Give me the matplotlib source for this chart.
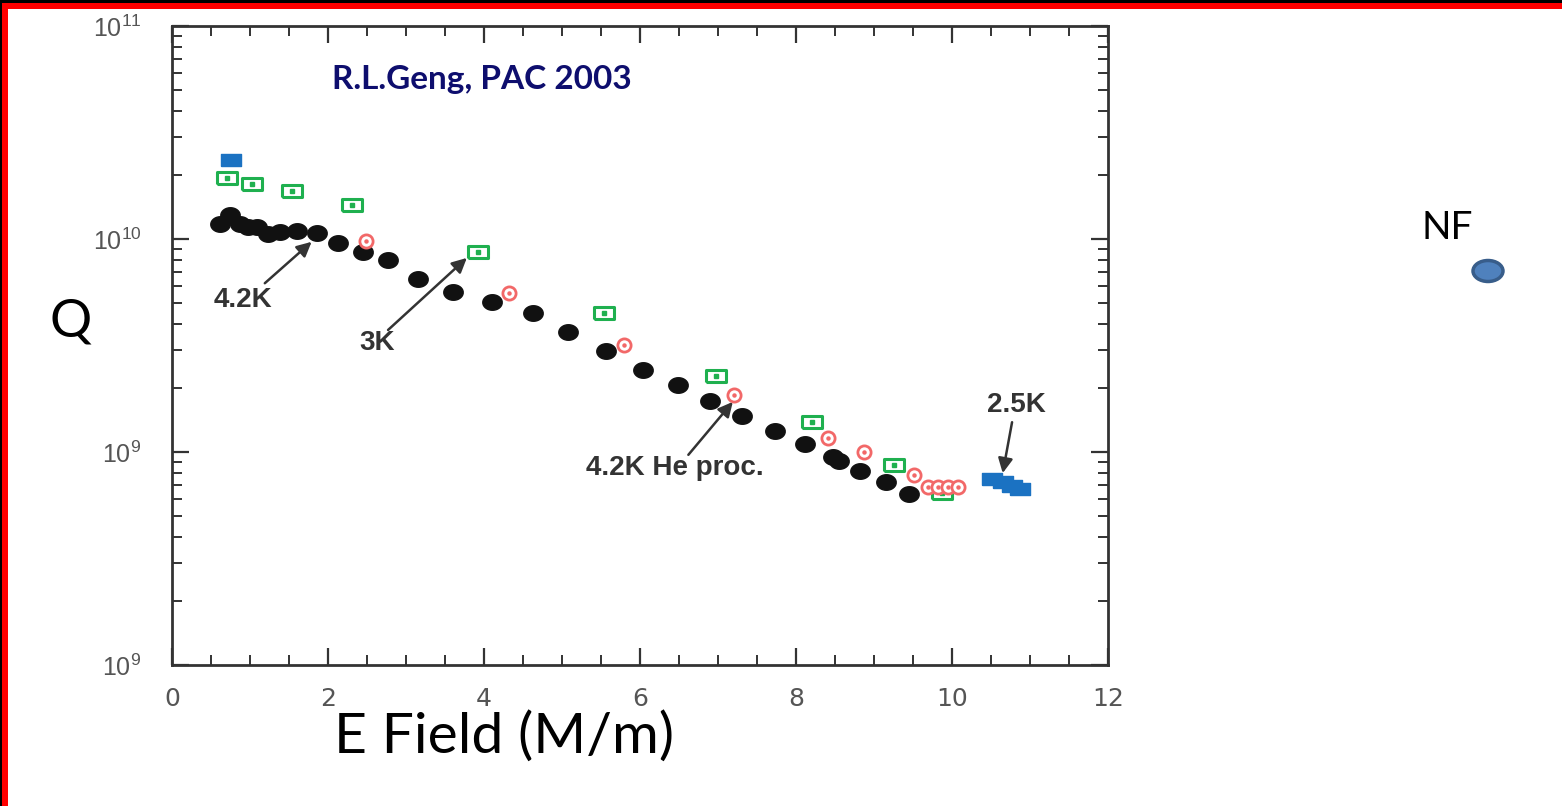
import numpy as np
import matplotlib
matplotlib.use("Agg")
import matplotlib.pyplot as plt
from matplotlib.patches import Rectangle, Ellipse
from matplotlib.ticker import LogLocator, MultipleLocator, NullFormatter

plt.rcParams['mathtext.fontset'] = 'custom'
plt.rcParams['mathtext.rm'] = 'Liberation Sans'

# ---- data ----
# 4.2K (black filled circles)
x_42k = [0.62, 0.74, 0.87, 0.97, 1.09, 1.23, 1.39, 1.60, 1.86, 2.13, 2.45, 2.77, 3.15,
         3.60, 4.10, 4.63, 5.08, 5.56, 6.04, 6.49, 6.90, 7.31, 7.73, 8.12, 8.47, 8.55,
         8.82, 9.15, 9.45]
q_42k = [1.17e10, 1.30e10, 1.17e10, 1.14e10, 1.14e10, 1.05e10, 1.08e10, 1.09e10, 1.07e10,
         9.6e9, 8.7e9, 7.97e9, 6.5e9, 5.64e9, 5.06e9, 4.5e9, 3.66e9, 2.98e9, 2.43e9,
         2.07e9, 1.73e9, 1.48e9, 1.26e9, 1.09e9, 9.5e8, 9.1e8, 8.15e8, 7.2e8, 6.35e8]
# 3K (green open squares)
x_3k = [0.70, 1.03, 1.54, 2.31, 3.92, 5.54, 6.97, 8.21, 9.26, 9.87]
q_3k = [1.93e10, 1.81e10, 1.68e10, 1.45e10, 8.7e9, 4.5e9, 2.27e9, 1.38e9, 8.7e8, 6.43e8]
# 4.2K He processed (red open circles)
x_he = [2.49, 4.32, 5.79, 7.21, 8.41, 8.87, 9.51, 9.69, 9.82, 9.95, 10.08]
q_he = [9.8e9, 5.57e9, 3.18e9, 1.85e9, 1.16e9, 1.0e9, 7.8e8, 6.85e8, 6.85e8, 6.85e8, 6.85e8]
# 2.5K (blue filled rectangles)
x_25k = [0.76, 10.51, 10.65, 10.77, 10.87]
q_25k = [2.35e10, 7.47e8, 7.2e8, 6.92e8, 6.7e8]

ytick_vals = [1e8, 1e9, 1e10, 1e11]
ytick_labels = ['$10^9$', '$10^9$', '$10^{10}$', '$10^{11}$']
xtick_vals = [0, 2, 4, 6, 8, 10, 12]

fig = plt.figure(figsize=(15.62, 8.06), dpi=100)
fig.patch.set_facecolor('white')

# slide border
fig.add_artist(Rectangle((0, 1 - 9 / 806), 1, 9 / 806, transform=fig.transFigure,
                         color='black', lw=0))
fig.add_artist(Rectangle((0, 1 - 9 / 806), 1, 6 / 806, transform=fig.transFigure,
                         color='#ff0000', lw=0))
fig.add_artist(Rectangle((0, 0), 8 / 1562, 1, transform=fig.transFigure,
                         color='black', lw=0))
fig.add_artist(Rectangle((2 / 1562, 0), 6 / 1562, 1 - 3 / 806, transform=fig.transFigure,
                         color='#ff0000', lw=0))

ax = fig.add_axes([172 / 1562, 1 - 665 / 806, 936 / 1562, 639 / 806])
ax.set_yscale('log')
ax.set_xlim(0, 12)
ax.set_ylim(1e8, 1e11)

rect = [(-1, -0.62), (1, -0.62), (1, 0.62), (-1, 0.62), (-1, -0.62)]
oval = [(np.cos(t) * 1.0, np.sin(t) * 0.8) for t in np.linspace(0, 2 * np.pi, 40)]

ax.plot(x_42k, q_42k, ls='none', marker=oval, ms=14, color='#111111', zorder=3)
ax.plot(x_3k, q_3k, ls='none', marker=rect, ms=14, mfc='white', mec='#1fb04f',
        mew=2.2, zorder=4)
ax.plot(x_3k, q_3k, ls='none', marker='s', ms=2.2, color='#1fb04f', zorder=4)
ax.plot(x_he, q_he, ls='none', marker='o', ms=9.5, mfc='white', mec='#f26868',
        mew=2.0, zorder=5)
ax.plot(x_he, q_he, ls='none', marker='o', ms=2.2, color='#f26868', zorder=5)
ax.plot(x_25k, q_25k, ls='none', marker=rect, ms=15, color='#1b72c2', zorder=6)

for s in ax.spines.values():
    s.set_linewidth(2)
    s.set_color('#333333')

ax.xaxis.set_minor_locator(MultipleLocator(0.5))
ax.set_xticks(xtick_vals)
ax.set_yticks(ytick_vals)
ax.set_yticklabels(ytick_labels)
ax.yaxis.set_minor_locator(LogLocator(base=10, subs=np.arange(2, 10)))
ax.yaxis.set_minor_formatter(NullFormatter())
ax.tick_params(which='both', direction='in', top=True, right=True, color='#333333')
ax.tick_params(which='major', length=12, width=1.6)
ax.tick_params(which='minor', length=7, width=1.4)
ax.tick_params(axis='x', which='major', labelsize=18, labelcolor='#555555', pad=16)
ax.tick_params(axis='y', which='major', labelsize=18, labelcolor='#555555', pad=22)

arrow = dict(arrowstyle='-|>', color='#333333', lw=1.8, mutation_scale=22,
             shrinkA=0, shrinkB=0)
lbl = dict(fontsize=20, fontweight='bold', color='#333333',
           family='Liberation Sans', ha='center', va='center')
ax.annotate('', xy=(1.79, 9.7e9), xytext=(1.19, 6.2e9), arrowprops=arrow)
ax.text(0.91, 5.18e9, '4.2K', **lbl)
ax.annotate('', xy=(3.78, 8.15e9), xytext=(2.77, 3.74e9), arrowprops=arrow)
ax.text(2.63, 3.25e9, '3K', **lbl)
ax.annotate('', xy=(7.19, 1.72e9), xytext=(6.62, 9.7e8), arrowprops=arrow)
ax.text(6.44, 8.4e8, '4.2K He proc.', **lbl)
ax.annotate('', xy=(10.65, 7.96e8), xytext=(10.77, 1.38e9), arrowprops=arrow)
ax.text(10.83, 1.66e9, '2.5K', **lbl)

fig.text(482 / 1562, 1 - 80 / 806, 'R.L.Geng, PAC 2003', fontsize=24,
         fontweight='bold', color='#0e0e6e', family='Lato', ha='center', va='center')
fig.text(71 / 1562, 1 - 322 / 806, 'Q', fontsize=38, color='black', family='Lato',
         ha='center', va='center')
fig.text(504 / 1562, 1 - 737 / 806, 'E Field (M/m)', fontsize=41, color='black',
         family='Lato', ha='center', va='center')
fig.text(1447 / 1562, 1 - 228 / 806, 'NF', fontsize=28, color='black', family='Lato',
         ha='center', va='center')
fig.add_artist(Ellipse((1488 / 1562, 1 - 271 / 806), 30 / 1562, 21 / 806,
                       transform=fig.transFigure, facecolor='#4f81bd',
                       edgecolor='#385d8a', lw=2.5))

fig.savefig('out.png', dpi=100)
